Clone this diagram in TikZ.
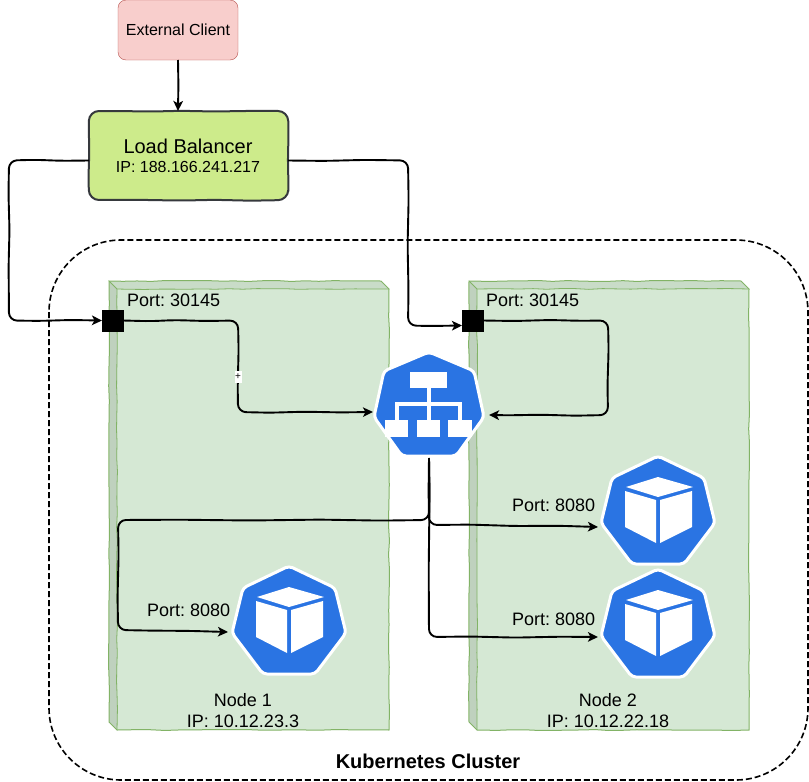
\documentclass[tikz,border=0pt]{standalone}
\usepackage{fontspec}
\setmainfont{Liberation Sans}
\usetikzlibrary{arrows.meta,decorations.pathmorphing,calc}
\frenchspacing
\definecolor{k8s}{HTML}{2A74E3}
\definecolor{nodefill}{HTML}{D5E8D4}
\definecolor{nodeline}{HTML}{82B366}
\definecolor{nodeleft}{HTML}{BFD1BE}
\definecolor{nodetop}{HTML}{C9DCC8}
\definecolor{lbfill}{HTML}{CDEB8B}
\definecolor{lbline}{HTML}{36393D}
\definecolor{clfill}{HTML}{F8CECC}
\definecolor{clline}{HTML}{B85450}
\newcommand{\fs}[1]{\fontsize{#1}{#1}\selectfont}
\tikzset{
  wob/.style={decorate,decoration={random steps,segment length=14pt,amplitude=0.5pt}},
  conn/.style={draw=black,line width=1.9pt,line join=round,rounded corners=8pt,-{Stealth[length=10pt,width=9.5pt,inset=2.5pt]}},
  straightconn/.style={draw=black,line width=1.9pt,-{Stealth[length=10pt,width=9.5pt,inset=2.5pt]}},
  txt/.style={inner sep=0pt,outer sep=0pt,text=black,font=\fs{18}},
  port/.style={draw=black,fill=black,minimum size=21pt,inner sep=0pt,outer sep=0pt},
  anchorbox/.style={rectangle,inner sep=0pt,outer sep=0pt},
  workbox/.style={rectangle,minimum width=280pt,minimum height=449pt,inner sep=0pt,outer sep=0pt},
  heptaline/.style={fill=k8s,draw=white,line width=3pt,rounded corners=4pt},
  pics/podicon/.style={code={
    \path[heptaline] (0,-57)--(46,-35)--(57,10)--(26,51)--(-26,51)--(-57,10)--(-46,-35)--cycle;
    \fill[white] (0,-36)--(35,-26)--(0,-16)--(-32,-26)--cycle;
    \fill[white] (-33,-22)--(-2,-13)--(-2,30)--(-33,14)--cycle;
    \fill[white] (2,-13)--(34,-22)--(34,14)--(2,30)--cycle;
  }},
  pics/svcicon/.style={code={
    \path[heptaline] (0,-55)--(45,-36)--(55,10)--(27,49)--(-27,49)--(-55,10)--(-45,-36)--cycle;
    \draw[white,line width=3.5pt] (0,-20)--(0,15) (-32,15)--(-32,-3)--(31,-3)--(31,15);
    \fill[white] (-19,-35) rectangle (18,-19);
    \fill[white] (-44,13) rectangle (-21,30);
    \fill[white] (-12,13) rectangle (11,30);
    \fill[white] (19,13) rectangle (43,30);
  }}
}
\begin{document}
\begin{tikzpicture}[x=1pt,y=-1pt]
\pgfmathsetseed{42}
\useasboundingbox (0,0) rectangle (809,782);
% cluster
\draw[black,line width=1.6pt,dash pattern=on 6pt off 3pt,rounded corners=72pt] (49,240) rectangle (808,780);
% worker boxes
\foreach \nm/\ox in {one/109,two/469}{
  \node[workbox] (\nm) at (\ox+140,505.5) {};
  \begin{scope}[shift={(\ox,281)}]
    \fill[nodefill] (0,0)--(272,0)--(280,8)--(280,449)--(8,449)--(0,441)--cycle;
    \fill[nodeleft] (0,0)--(8,8)--(8,449)--(0,441)--cycle;
    \fill[nodetop] (0,0)--(272,0)--(280,8)--(8,8)--cycle;
    \draw[nodeline,line width=1pt,wob] (0,0)--(272,0)--(280,8)--(280,449)--(8,449)--(0,441)--cycle;
    \draw[nodeline,line width=.8pt,wob] (0,0)--(8,8)--(280,8);
    \draw[nodeline,line width=.8pt,wob] (8,8)--(8,449);
  \end{scope}
}
% main nodes
\node[draw=clline,fill=clfill,rounded corners=8pt,minimum width=120pt,minimum height=60pt,inner sep=0pt,outer sep=0pt,font=\fs{16}] (client) at (178,30) {External Client};
\draw[lbline,fill=lbfill,line width=2pt,rounded corners=10pt]
  (120,111)--(150,111.6)--(180,110.8)--(215,111.5)--(250,110.9)--(288,111)--(288.6,135)--(287.8,160)--(288.5,182)--(288,200)
  --(250,200.7)--(215,199.8)--(180,200.6)--(145,199.9)--(89,200)--(88.5,175)--(89.4,150)--(88.7,130)--(89,111)--cycle;
\node[anchorbox,minimum width=199pt,minimum height=89pt] (lb) at (188.5,155.5) {};
\node[txt,font=\fs{20}] (lbname) at (188,146) {Load Balancer};
\node[txt,font=\fs{16}] (lbip) at (188,167) {IP: 188.166.241.217};
\node[port] (p1) at (112.5,320.5) {};
\node[port] (p2) at (472.5,320.5) {};
\node[txt,anchor=west] (pt1) at (127,300) {Port: 30145};
\node[txt,anchor=west] (pt2) at (486,300) {Port: 30145};
\node[anchorbox,minimum width=108pt,minimum height=105pt] (svc) at (429,405.5) {};
\pic at (429,407) {svcicon};
\node[anchorbox,minimum width=112pt,minimum height=106pt] (podA) at (658,510) {};
\node[anchorbox,minimum width=112pt,minimum height=106pt] (podB) at (658,623) {};
\node[anchorbox,minimum width=112pt,minimum height=106pt] (podC) at (289,620) {};
\pic at (658,513) {podicon};
\pic at (658,626) {podicon};
\pic at (289,623) {podicon};
\node[txt,anchor=west] (lA) at (512,505) {Port: 8080};
\node[txt,anchor=west] (lB) at (512,619) {Port: 8080};
\node[txt,anchor=west] (lC) at (147,610) {Port: 8080};
\node[txt] (n1a) at (243,700) {Node 1};
\node[txt] (n1b) at (243,721) {IP: 10.12.23.3};
\node[txt] (n2a) at (608,700) {Node 2};
\node[txt] (n2b) at (608,721) {IP: 10.12.22.18};
\node[txt,font=\bfseries\fs{20}] (title) at (428,761) {Kubernetes Cluster};
% connectors
\draw[straightconn] (client.south) -- (178.4,85) -- (lb.north -| client.south);
\draw[conn] ([yshift=-5pt]lb.west) -- (62,160.8) -- (35,159.8) -- (9,160.5) -- (8.5,195) -- (9.5,230) -- (8.6,265) -- (9,320.5) -- (40,320.9) -- (70,320) -- (p1.west);
\draw[conn] ([yshift=-5pt]lb.east) -- (325,160.9) -- (365,159.9) -- (408,160.5) -- (408.6,200) -- (407.6,245) -- (408.5,290) -- (408,325.5) -- (430,326) -- ([yshift=-5pt]p2.west);
\draw[conn] (p1.east) -- (150,321.2) -- (175,320.1) -- (205,321) -- (238,320.5) -- (238.6,350) -- (237.7,385) -- (238,412) -- (270,412.7) -- (305,411.7) -- (340,412.4) -- ([xshift=-2pt,yshift=-6.5pt]svc.west);
\draw[conn] (p2.east) -- (515,321) -- (550,320) -- (580,320.8) -- (608,320.5) -- (608.6,350) -- (607.5,385) -- (608,415) -- (575,415.7) -- (540,414.7) -- (510,415.3) -- ([xshift=6pt,yshift=-9.5pt]svc.east);
\draw[conn] (svc.south) -- (429.5,490) -- (429,520) -- (380,520.6) -- (320,519.6) -- (250,520.5) -- (180,519.7) -- (118,520) -- (118.6,555) -- (117.6,595) -- (118,630) -- (150,630.6) -- (190,630.9) -- ([xshift=-5pt,yshift=-12pt]podC.west);
\draw[conn] (svc.south) -- (428.6,490) -- (429,525) -- (470,524.6) -- (515,526) -- (560,525.8) -- ([xshift=-4pt,yshift=-17pt]podA.west);
\draw[conn] (svc.south) -- (429.5,500) -- (428.7,570) -- (429,637) -- (470,636.5) -- (515,637.6) -- (560,636.7) -- ([xshift=-4pt,yshift=-14pt]podB.west);
\node[fill=white,inner sep=0pt,minimum width=7pt,minimum height=12pt,font=\fs{10}] (plus) at (238,377) {+};
\end{tikzpicture}
\end{document}
